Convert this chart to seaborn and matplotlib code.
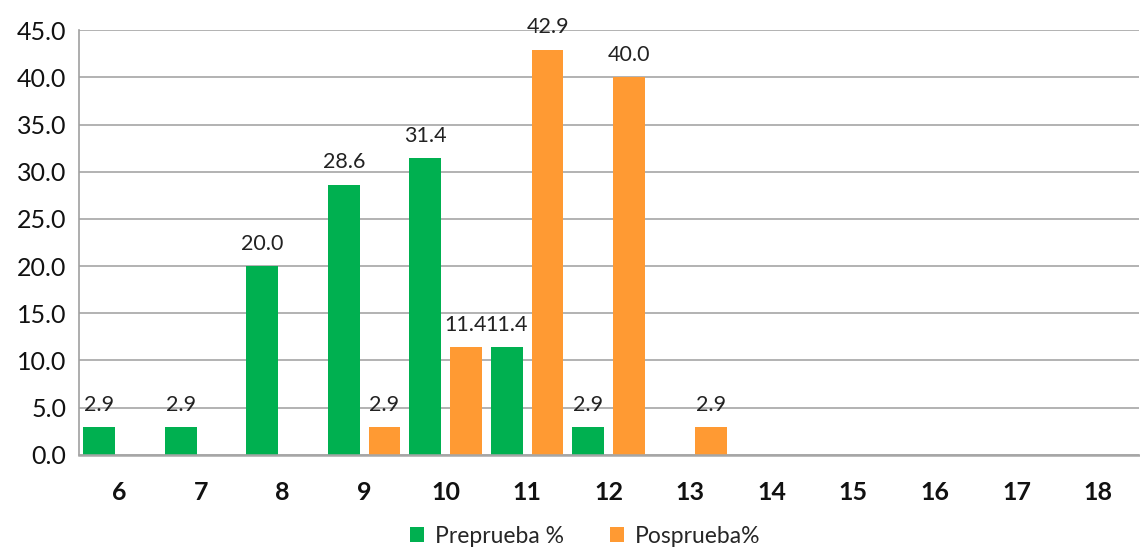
import matplotlib
matplotlib.use("Agg")
import matplotlib.pyplot as plt
import seaborn as sns
import pandas as pd
from matplotlib.ticker import FormatStrFormatter

# Grades and percentage of students per grade, before and after
notas = [6, 7, 8, 9, 10, 11, 12, 13, 14, 15, 16, 17, 18]
preprueba = [2.9, 2.9, 20.0, 28.6, 31.4, 11.4, 2.9, 0, 0, 0, 0, 0, 0]
posprueba = [0, 0, 0, 2.9, 11.4, 42.9, 40.0, 2.9, 0, 0, 0, 0, 0]
series = ["Preprueba %", "Posprueba%"]
colores = ["#00B050", "#FF9A33"]

df = pd.DataFrame({
    "nota": [str(n) for n in notas] * 2,
    "pct": preprueba + posprueba,
    "serie": [series[0]] * len(notas) + [series[1]] * len(notas),
})

sns.set_theme(style="white")
plt.rcParams["font.family"] = ["Lato", "DejaVu Sans"]

fig = plt.figure(figsize=(11.4, 5.48), dpi=100)
ax = fig.add_axes([0.069, 0.170, 0.930, 0.775])

sns.barplot(data=df, x="nota", y="pct", hue="serie", order=[str(n) for n in notas],
            hue_order=series, palette=colores, saturation=1, width=1.0, gap=0.22,
            linewidth=0, ax=ax, errorbar=None)

for cont in ax.containers:
    labels = [f"{b.get_height():.1f}" if b.get_height() > 0 else "" for b in cont]
    ax.bar_label(cont, labels=labels, padding=9, fontsize=15.5, color="#222222")

ax.set_xlim(-0.5, len(notas) - 0.5)
ax.set_ylim(0, 45)
ax.set_yticks([i * 5 for i in range(10)])
ax.yaxis.set_major_formatter(FormatStrFormatter("%.1f"))
ax.grid(axis="y", color="#A6A6A6", linewidth=1.2)
ax.set_axisbelow(True)
ax.set_xlabel("")
ax.set_ylabel("")
ax.tick_params(axis="y", labelsize=18, length=0, pad=9, colors="#111111")
ax.tick_params(axis="x", labelsize=18, length=0, pad=19, colors="#111111")
for t in ax.get_xticklabels():
    t.set_fontweight("bold")

for side in ["top", "right"]:
    ax.spines[side].set_visible(False)
ax.spines["left"].set_color("#A0A0A0")
ax.spines["left"].set_linewidth(1.2)
ax.spines["bottom"].set_color("#A6A6A6")
ax.spines["bottom"].set_linewidth(1.8)

ax.legend(loc="upper center", bbox_to_anchor=(0.478, -0.14), ncol=2, frameon=False,
          fontsize=16.5, handlelength=0.6, handleheight=0.6, handletextpad=0.5,
          columnspacing=2.0, borderpad=0)

fig.savefig("out.png", dpi=100)
